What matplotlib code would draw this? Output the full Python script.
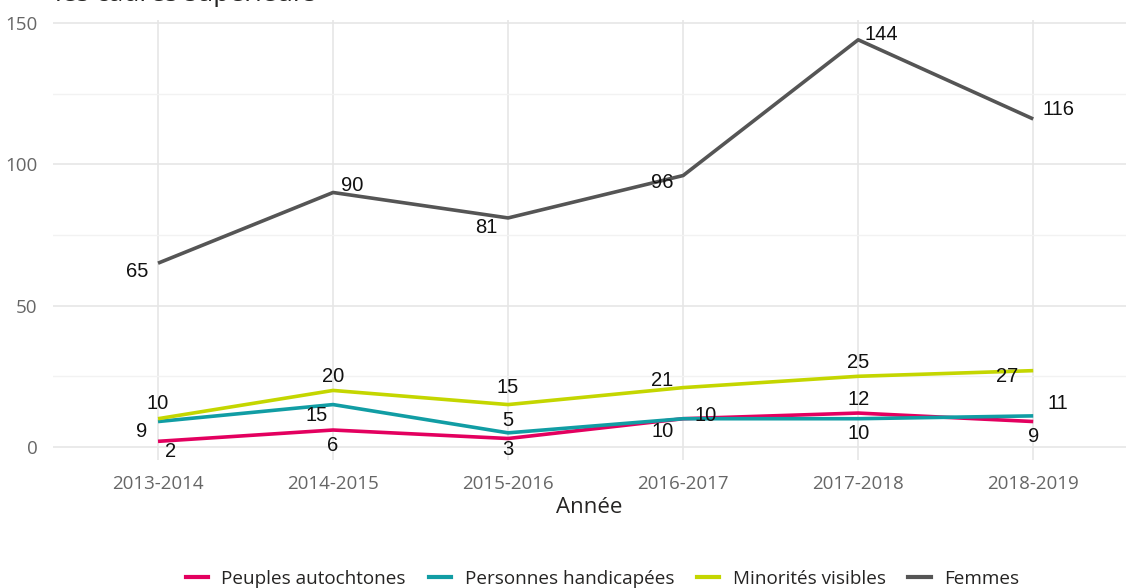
import matplotlib.pyplot as plt
from matplotlib.lines import Line2D

# data
years = ['2013-2014', '2014-2015', '2015-2016', '2016-2017', '2017-2018', '2018-2019']
peuples = [2, 6, 3, 10, 12, 9]
handicap = [9, 15, 5, 10, 10, 11]
minorites = [10, 20, 15, 21, 25, 27]
femmes = [65, 90, 81, 96, 144, 116]

series_names = ['Peuples autochtones', 'Personnes handicapées', 'Minorités visibles', 'Femmes']
colors = ['#E3005F', '#119DA4', '#C4D600', '#555555']

# label offsets in points (dx, dy) for each point of each series
offsets = [
    [(9, -7), (0, -11), (0, -8), (-15, -9), (0, 10), (0, -11)],
    [(-12, -7), (-12, -8), (0, 9), (16, 2), (0, -11), (18, 9)],
    [(0, 11), (0, 10), (0, 12), (-15, 5), (0, 10), (-19, -4)],
    [(-15, -6), (14, 5), (-16, -7), (-15, -5), (17, 4), (18, 7)],
]

plt.rcParams['font.family'] = ['Open Sans', 'DejaVu Sans']

fig = plt.figure(figsize=(11.26, 5.88), dpi=100)
ax = fig.add_axes([53 / 1126, 1 - 460 / 588, 1 - 53 / 1126, (460 - 20) / 588])

x = list(range(len(years)))
data = [peuples, handicap, minorites, femmes]
for vals, col in zip(data, colors):
    ax.plot(x, vals, color=col, lw=2.6, solid_capstyle='butt', zorder=3)
for vals, offs in zip(data, offsets):
    for xi, v, (dx, dy) in zip(x, vals, offs):
        ax.annotate(str(v), (xi, v), xytext=(dx, dy), textcoords='offset points',
                    ha='center', va='center', fontsize=14.5, color='#111111',
                    family=['Liberation Sans', 'DejaVu Sans'], zorder=4)

ax.set_xlim(-0.6, 5.53)
ax.set_ylim(-4.6, 151)
ax.set_xticks(x)
ax.set_xticklabels(years)
ax.set_yticks([0, 50, 100, 150])
ax.set_yticks([25, 75, 125], minor=True)
ax.grid(True, which='major', color='#E6E6E6', lw=1.2)
ax.grid(True, which='minor', axis='y', color='#F2F2F2', lw=1.0)
for s in ax.spines.values():
    s.set_visible(False)
ax.tick_params(which='both', length=0, labelsize=13.5, labelcolor='#666666')
ax.tick_params(axis='x', pad=11)
ax.tick_params(axis='y', pad=11)
ax.set_xlabel('Année', fontsize=16, color='#252423', labelpad=3)

fig.text(55 / 1126, 1 - 1 / 588, 'les cadres supérieurs', fontsize=19, color='#252423',
         va='baseline', ha='left')

handles = [Line2D([0], [0], color=c, lw=3) for c in colors]
fig.legend(handles, series_names, loc='center', bbox_to_anchor=(0.535, 0.016), ncol=4,
           frameon=False, fontsize=13.6, handlelength=1.2, handletextpad=0.7,
           columnspacing=1.2, labelcolor='#252423')

fig.savefig('out.png', dpi=100)
